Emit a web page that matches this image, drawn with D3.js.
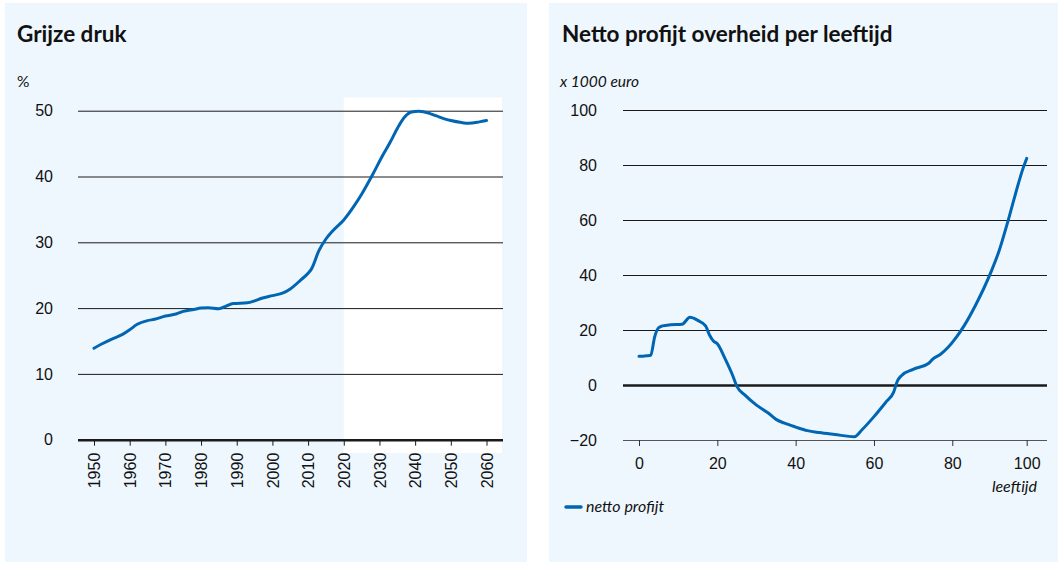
<!doctype html>
<html lang="nl">
<head>
<meta charset="utf-8">
<title>Grijze druk en netto profijt</title>
<style>
  body { margin: 0; background: #fff; }
  svg { display: block; font-family: Lato, "Open Sans", sans-serif; }
  .tick text { font-size: 16px; fill: #111; }
  .title { font-size: 22.5px; font-weight: bold; fill: #111; }
  .unit { font-size: 15.5px; fill: #111; }
</style>
</head>
<body>
<div id="chart"></div>
<script src="https://d3js.org/d3.v7.min.js"></script>
<script>
// ---- data: grijze druk (%)
var gdYears  = [1950,1952,1955,1958,1960,1962,1965,1967,1970,1973,1975,1978,1980,1982,1985,1987,1989,1993,1995,1997,2000,2003,2005,2008,2010,2011,2013,2015,2017,2020,2023,2025,2028,2031,2033,2035,2037,2039,2041,2044,2046,2048,2050,2053,2055,2058,2060];
var gdValues = [13.9,14.5,15.3,16.0,16.7,17.5,18.1,18.3,18.8,19.1,19.5,19.8,20.0,20.05,19.9,20.3,20.7,20.8,21.1,21.5,21.9,22.3,22.9,24.3,25.3,26.0,28.7,30.5,31.8,33.4,35.6,37.3,40.2,43.3,45.2,47.3,49.0,49.8,49.9,49.6,49.2,48.8,48.5,48.2,48.1,48.3,48.5];
var gdYTicks = [0,10,20,30,40,50];
var gdXTicks = [1950,1960,1970,1980,1990,2000,2010,2020,2030,2040,2050,2060];
var gdForecastFrom = 2020;

// ---- data: netto profijt per leeftijd (x 1000 euro)
var npAges   = [0,1,2,3,4,5,6,8,11,13,15,17,18,19,20,22,24,25,27,30,33,35,37,40,43,46,50,55,57,60,63,65,66,67,70,74,75,77,79,81,83,86,88,90,92,94,96,98,99];
var npValues = [10.5,10.5,10.6,10.8,17.5,20.8,21.5,21.9,22.1,24.6,23.5,21.5,18.2,16.0,15.0,9.5,3.2,-0.5,-3.6,-7.3,-10.2,-12.5,-13.8,-15.3,-16.6,-17.3,-18.0,-18.8,-16.2,-11.5,-6.3,-2.7,1.5,3.4,5.7,7.9,9.4,11.2,13.8,17.3,21.5,29.2,35.0,41.5,49.0,58.5,68.8,78.5,82.4];
var npYTicks = [-20,0,20,40,60,80,100];
var npXTicks = [0,20,40,60,80,99];
var npXLabels = ['0','20','40','60','80','100'];

var blue = '#0066b3';
var panelBg = '#eef7fe';

var svg = d3.select('#chart').append('svg')
  .attr('width', 1062).attr('height', 564);

// panels
svg.append('rect').attr('x', 5).attr('y', 3).attr('width', 522).attr('height', 559).attr('fill', panelBg);
svg.append('rect').attr('x', 549).attr('y', 3).attr('width', 509).attr('height', 559).attr('fill', panelBg);

// ================= left: grijze druk
var gx = d3.scaleLinear().domain([1950, 2060]).range([94, 486.5]);
var gy = d3.scaleLinear().domain([0, 50]).range([439.7, 110.7]);

svg.append('text').attr('class', 'title').attr('x', 17).attr('y', 42).text('Grijze druk');
svg.append('text').attr('class', 'unit').attr('x', 17).attr('y', 87).text('%');

// forecast area (white)
svg.append('rect')
  .attr('x', gx(gdForecastFrom)).attr('y', 97.5)
  .attr('width', 502 - gx(gdForecastFrom)).attr('height', 453 - 97.5)
  .attr('fill', '#fff');

var gyAxis = svg.append('g')
  .attr('transform', 'translate(78,0)')
  .call(d3.axisLeft(gy).tickValues(gdYTicks).tickSize(-425).tickPadding(25));
gyAxis.select('.domain').remove();
gyAxis.selectAll('.tick line').attr('stroke', '#1a1a1a').attr('stroke-width', function(d){ return d === 0 ? 2.5 : 1; });

var gxAxis = svg.append('g')
  .attr('transform', 'translate(0,' + gy(0) + ')')
  .call(d3.axisBottom(gx).tickValues(gdXTicks).tickFormat(d3.format('d')).tickSize(6));
gxAxis.select('.domain').remove();
gxAxis.selectAll('.tick line').attr('stroke', '#1a1a1a');
gxAxis.selectAll('.tick text')
  .attr('transform', 'translate(0,13) rotate(-90)')
  .attr('text-anchor', 'end')
  .attr('x', 0).attr('y', 0).attr('dy', '0.35em');

var gLine = d3.line()
  .x(function(d, i){ return gx(gdYears[i]); })
  .y(function(d){ return gy(d); })
  .curve(d3.curveMonotoneX);

svg.append('path').datum(gdValues)
  .attr('d', gLine)
  .attr('fill', 'none').attr('stroke', blue).attr('stroke-width', 3)
  .attr('stroke-linejoin', 'round').attr('stroke-linecap', 'round');

// ================= right: netto profijt
var nx = d3.scaleLinear().domain([0, 99]).range([639, 1026.7]);
var ny = d3.scaleLinear().domain([-20, 100]).range([440, 110]);

svg.append('text').attr('class', 'title').attr('x', 562).attr('y', 42).text('Netto profijt overheid per leeftijd');
svg.append('text').attr('class', 'unit').attr('x', 560).attr('y', 87).attr('font-style', 'italic').text('x 1000 euro');

var nyAxis = svg.append('g')
  .attr('transform', 'translate(623,0)')
  .call(d3.axisLeft(ny).tickValues(npYTicks).tickSize(-424).tickPadding(26)
    .tickFormat(function(d){ return d < 0 ? '\u2212' + Math.abs(d) : d; }));
nyAxis.select('.domain').remove();
nyAxis.selectAll('.tick line')
  .attr('stroke', function(d){ return d === -20 ? '#555' : '#1a1a1a'; })
  .attr('stroke-width', function(d){ return d === 0 ? 2.5 : 1; });

var nxAxis = svg.append('g')
  .attr('transform', 'translate(0,' + ny(-20) + ')')
  .call(d3.axisBottom(nx).tickValues(npXTicks).tickSize(6).tickPadding(12)
    .tickFormat(function(d, i){ return npXLabels[i]; }));
nxAxis.select('.domain').remove();
nxAxis.selectAll('.tick line').attr('stroke', '#333');

svg.append('text').attr('x', 1037).attr('y', 492)
  .attr('text-anchor', 'end').attr('font-style', 'italic').attr('font-size', 16)
  .attr('fill', '#111').text('leeftijd');

var nLine = d3.line()
  .x(function(d, i){ return nx(npAges[i]); })
  .y(function(d){ return ny(d); })
  .curve(d3.curveMonotoneX);

svg.append('path').datum(npValues)
  .attr('d', nLine)
  .attr('fill', 'none').attr('stroke', blue).attr('stroke-width', 3)
  .attr('stroke-linejoin', 'round').attr('stroke-linecap', 'round');

// legend
svg.append('line').attr('x1', 566).attr('x2', 581).attr('y1', 507).attr('y2', 507)
  .attr('stroke', blue).attr('stroke-width', 3.5).attr('stroke-linecap', 'round');
svg.append('text').attr('x', 586).attr('y', 512)
  .attr('font-style', 'italic').attr('font-size', 16).attr('fill', '#111').text('netto profijt');
</script>
</body>
</html>
